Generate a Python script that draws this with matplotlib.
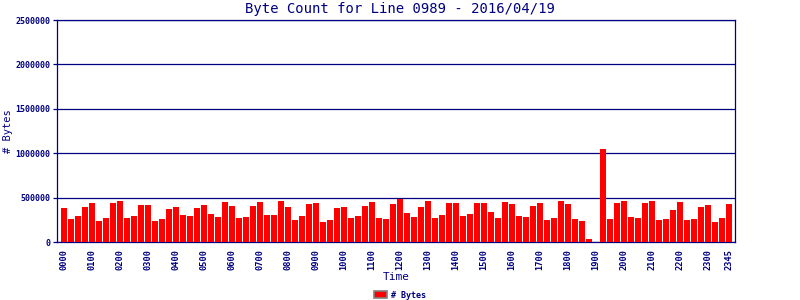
import numpy as np
import matplotlib
matplotlib.use('Agg')
import matplotlib.pyplot as plt

# --- data (bytes per 15 min slot) ---
byte_counts = [
    383000, 259000, 293000, 395000, 440000, 237000, 271000, 440000, 462000, 271000,
    293000, 417000, 417000, 237000, 259000, 372000, 395000, 304000, 293000, 383000,
    417000, 316000, 282000, 451000, 406000, 271000, 282000, 406000, 451000, 304000,
    304000, 462000, 395000, 248000, 293000, 429000, 440000, 226000, 248000, 383000,
    395000, 271000, 293000, 406000, 451000, 271000, 259000, 429000, 485000, 327000,
    282000, 395000, 462000, 271000, 304000, 440000, 440000, 293000, 316000, 440000,
    440000, 338000, 271000, 451000, 429000, 293000, 282000, 406000, 440000, 248000,
    271000, 462000, 429000, 259000, 237000, 34000, 0, 1049000, 259000, 440000,
    462000, 282000, 271000, 440000, 462000, 248000, 259000, 361000, 451000, 248000,
    259000, 395000, 417000, 226000, 271000, 429000,
]
tick_idx = list(range(0, 96, 4)) + [95]
tick_labels = ['%02d00' % h for h in range(24)] + ['2345']
y_ticks = [0, 500000, 1000000, 1500000, 2000000, 2500000]

NAVY = '#000080'
MONO = 'DejaVu Sans Mono'

fig = plt.figure(figsize=(8, 3), dpi=100)
ax = fig.add_axes([57 / 800, 1 - 242 / 300, (735 - 57) / 800, (242 - 20) / 300])

x = np.arange(len(byte_counts))
ax.bar(x, byte_counts, width=6 / 7, color='#ff0000', label='# Bytes', zorder=3)

ax.set_xlim(-1.0, 95.86)
ax.set_ylim(0, 2500000)
ax.set_yticks(y_ticks)
ax.set_yticklabels([str(v) for v in y_ticks], family=MONO, fontsize=6, weight='bold', color=NAVY)
ax.set_xticks(tick_idx)
ax.set_xticklabels(tick_labels, rotation=90, family=MONO, fontsize=6.2, weight='bold', color=NAVY)
ax.tick_params(axis='x', length=0, pad=5)
ax.tick_params(axis='y', length=3, width=0.9, color=NAVY, pad=2)
ax.yaxis.grid(True, color=NAVY, linewidth=0.9, zorder=1)
for s in ax.spines.values():
    s.set_color(NAVY)
    s.set_linewidth(0.9)

fig.text(0.5, 1 - 9 / 300, 'Byte Count for Line 0989 - 2016/04/19', ha='center', va='center',
         family=MONO, fontsize=10, color=NAVY)
fig.text(8 / 800, 1 - 131 / 300, '# Bytes', rotation=90, ha='center', va='center',
         family=MONO, fontsize=7.5, color=NAVY)
fig.text(396 / 800, 1 - 277 / 300, 'Time', ha='center', va='center',
         family=MONO, fontsize=8, color=NAVY)

leg = fig.legend(loc='center', bbox_to_anchor=(400 / 800, 1 - 295 / 300), frameon=False,
                 handlelength=1.5, handleheight=1.0, handletextpad=0.5, borderpad=0,
                 prop={'family': MONO, 'size': 6, 'weight': 'bold'})
for t in leg.get_texts():
    t.set_color(NAVY)
for p in leg.get_patches():
    p.set_edgecolor('#808080')
    p.set_linewidth(1.2)

fig.savefig('out.png', dpi=100)
